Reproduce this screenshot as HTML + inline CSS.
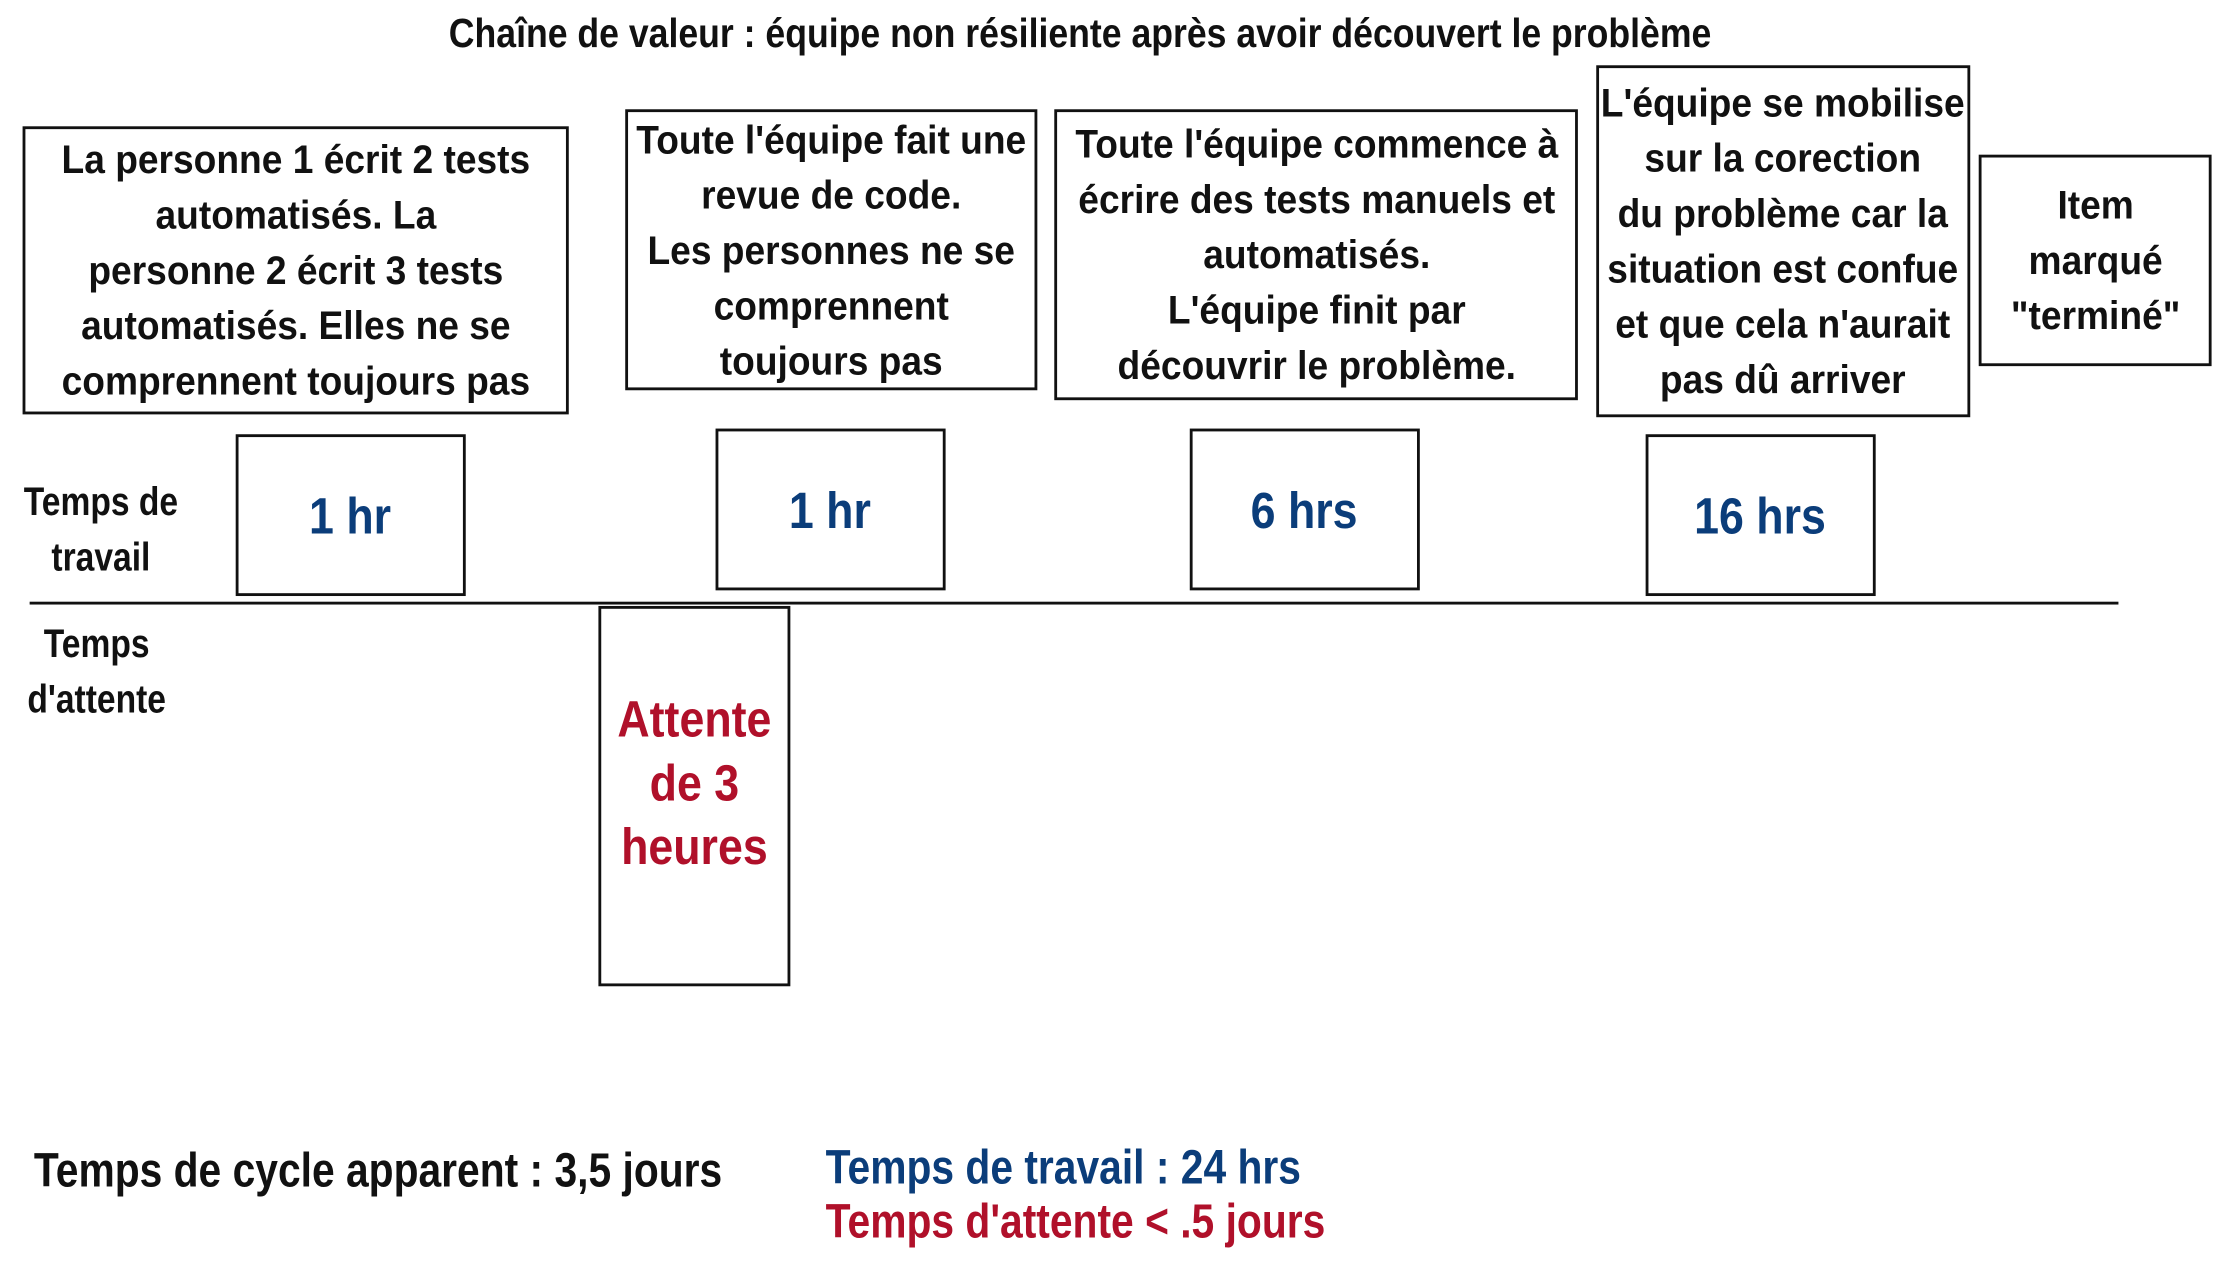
<!DOCTYPE html>
<html><head><meta charset="utf-8"><style>
html,body{margin:0;padding:0;background:#fff;width:2213px;height:1263px;overflow:hidden}
#s{position:absolute;left:0;top:0;width:1568px;height:890px;transform:scale(1.41135,1.41910);transform-origin:0 0;font-family:"Liberation Sans",sans-serif;font-weight:bold;color:#111}
.b{position:absolute;border:2px solid #111;box-sizing:border-box;display:flex;flex-direction:column;justify-content:center;align-items:center;text-align:center;font-size:28px;line-height:39px;white-space:nowrap}
.b>div{transform:scaleX(0.94)}
.w>div{transform:scaleX(0.88)}
.t{position:absolute;white-space:nowrap;transform:scaleX(0.85);transform-origin:0 0}
.blue{color:#0b3d7a}.red{color:#b0102a}
.w{font-size:36px}
</style></head><body><div id="s">
<div class="t" style="left:318px;top:8px;font-size:29px;transform:scaleX(0.87)">Chaîne de valeur : équipe non résiliente après avoir découvert le problème</div>
<div class="b" style="left:16px;top:89px;width:387px;height:203px"><div>La personne 1 écrit 2 tests<br>automatisés. La<br>personne 2 écrit 3 tests<br>automatisés. Elles ne se<br>comprennent toujours pas</div></div>
<div class="b" style="left:443px;top:77px;width:292px;height:198px"><div>Toute l'équipe fait une<br>revue de code.<br>Les personnes ne se<br>comprennent<br>toujours pas</div></div>
<div class="b" style="left:747px;top:77px;width:371px;height:205px"><div>Toute l'équipe commence à<br>écrire des tests manuels et<br>automatisés.<br>L'équipe finit par<br>découvrir le problème.</div></div>
<div class="b" style="left:1131px;top:46px;width:265px;height:248px"><div>L'équipe se mobilise<br>sur la corection<br>du problème car la<br>situation est confue<br>et que cela n'aurait<br>pas dû arriver</div></div>
<div class="b" style="left:1402px;top:109px;width:165px;height:149px"><div>Item<br>marqué<br>"terminé"</div></div>
<div class="t" style="left:12px;top:334px;font-size:28px;line-height:39px;text-align:center;width:140px">Temps de<br>travail</div>
<div class="t" style="left:9px;top:434px;font-size:28px;line-height:39px;text-align:center;width:140px">Temps<br>d'attente</div>
<div class="b blue w" style="left:167px;top:306px;width:163px;height:114px"><div>1 hr</div></div>
<div class="b blue w" style="left:507px;top:302px;width:163px;height:114px"><div>1 hr</div></div>
<div class="b blue w" style="left:843px;top:302px;width:163px;height:114px"><div>6 hrs</div></div>
<div class="b blue w" style="left:1166px;top:306px;width:163px;height:114px"><div>16 hrs</div></div>
<div style="position:absolute;left:21px;top:424px;width:1480px;height:2px;background:#111"></div>
<div class="b red w" style="left:424px;top:427px;width:136px;height:268px;line-height:45px;padding-bottom:20px"><div>Attente<br>de 3<br>heures</div></div>
<div class="t" style="left:24px;top:806px;font-size:34px">Temps de cycle apparent : 3,5 jours</div>
<div class="t blue" style="left:585px;top:804px;font-size:34px">Temps de travail : 24 hrs</div>
<div class="t red" style="left:585px;top:842px;font-size:34px">Temps d'attente &lt; .5 jours</div>
</div></body></html>
